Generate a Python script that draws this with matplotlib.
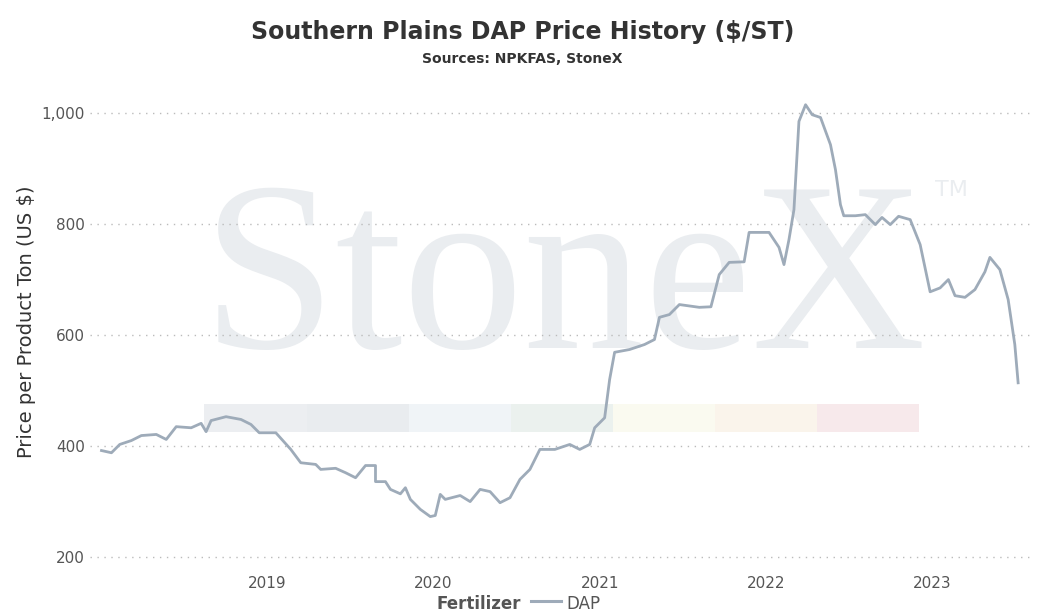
import matplotlib
matplotlib.use("Agg")
import matplotlib.pyplot as plt
from matplotlib.patches import Rectangle

# decimal years and DAP prices ($/ST)
years = [2018.0,2018.06,2018.11,2018.18,2018.24,2018.33,2018.39,2018.45,2018.54,2018.6,2018.63,2018.66,2018.75,2018.84,2018.9,2018.95,2019.05,2019.14,2019.2,2019.29,2019.32,2019.41,2019.47,2019.53,2019.59,2019.65,2019.65,2019.71,2019.74,2019.8,2019.83,2019.86,2019.92,2019.98,2020.01,2020.04,2020.07,2020.16,2020.22,2020.28,2020.34,2020.4,2020.46,2020.52,2020.58,2020.64,2020.73,2020.82,2020.88,2020.94,2020.97,2021.03,2021.06,2021.09,2021.18,2021.27,2021.33,2021.36,2021.42,2021.48,2021.6,2021.67,2021.72,2021.78,2021.87,2021.9,2022.02,2022.08,2022.11,2022.14,2022.17,2022.2,2022.24,2022.28,2022.33,2022.39,2022.42,2022.45,2022.47,2022.54,2022.6,2022.66,2022.7,2022.75,2022.8,2022.87,2022.93,2022.99,2023.05,2023.1,2023.14,2023.2,2023.26,2023.32,2023.35,2023.41,2023.46,2023.5,2023.52]
dap = [391,387,402,409,418,420,411,434,432,440,425,445,452,447,438,423,423,393,369,366,357,359,351,342,364,364,335,335,321,313,324,303,285,272,274,312,303,310,299,321,317,297,306,339,357,393,393,402,393,402,432,450,519,568,573,582,591,631,636,654,649,650,708,730,731,784,784,757,726,771,825,984,1014,996,991,942,897,834,814,814,816,798,811,798,813,807,762,677,684,699,670,667,681,713,739,717,663,582,513]
band_colors = ["#eceef1","#e9ecef","#f0f4f7","#ebf1ee","#fafaf0","#faf4eb","#f7e9eb"]

fig = plt.figure(figsize=(10.45,6.14), dpi=100)
ax = fig.add_axes([0.086, 0.080, 0.901, 0.791])
ax.set_xlim(2017.93, 2023.6)
ax.set_ylim(185, 1060)

# watermark
ax.text(0.119, 0.446, "StoneX", transform=ax.transAxes, fontsize=174, family="Liberation Serif",
        color="#eaedf0", ha="left", va="baseline", zorder=0)
ax.text(0.898, 0.76, "TM", transform=ax.transAxes, fontsize=16, color="#eaedf0", zorder=0)
bx0, bw = 2018.62, 0.615
for i, c in enumerate(band_colors):
    ax.add_patch(Rectangle((bx0 + i*bw, 424), bw, 50, color=c, zorder=0, lw=0))

ax.plot(years, dap, color="#9eabb9", lw=2.0, zorder=3)

ax.set_yticks([200,400,600,800,1000])
ax.set_yticklabels(["200","400","600","800","1,000"])
ax.set_xticks([2019,2020,2021,2022,2023])
ax.set_xticklabels(["2019","2020","2021","2022","2023"])
ax.tick_params(axis="both", length=0, labelsize=11, colors="#555555")
ax.tick_params(axis="x", pad=8)
ax.grid(axis="y", color="#bbbbbb", linestyle=(0,(1,4)), lw=1)
for s in ax.spines.values():
    s.set_visible(False)
ax.set_ylabel("Price per Product Ton (US $)", fontsize=14, color="#333333")

fig.text(0.5, 0.937, "Southern Plains DAP Price History ($/ST)", ha="center", fontsize=17,
         weight="bold", color="#333333")
fig.text(0.5, 0.897, "Sources: NPKFAS, StoneX", ha="center", fontsize=10, weight="bold", color="#333333")
fig.text(0.499, 0.008, "Fertilizer", ha="right", fontsize=12, weight="bold", color="#555555")
fig.lines.append(plt.Line2D([0.508,0.537],[0.021,0.021], transform=fig.transFigure, color="#9eabb9", lw=2.2))
fig.text(0.542, 0.008, "DAP", ha="left", fontsize=12, color="#555555")
fig.savefig("out.png", dpi=100, facecolor="white")
